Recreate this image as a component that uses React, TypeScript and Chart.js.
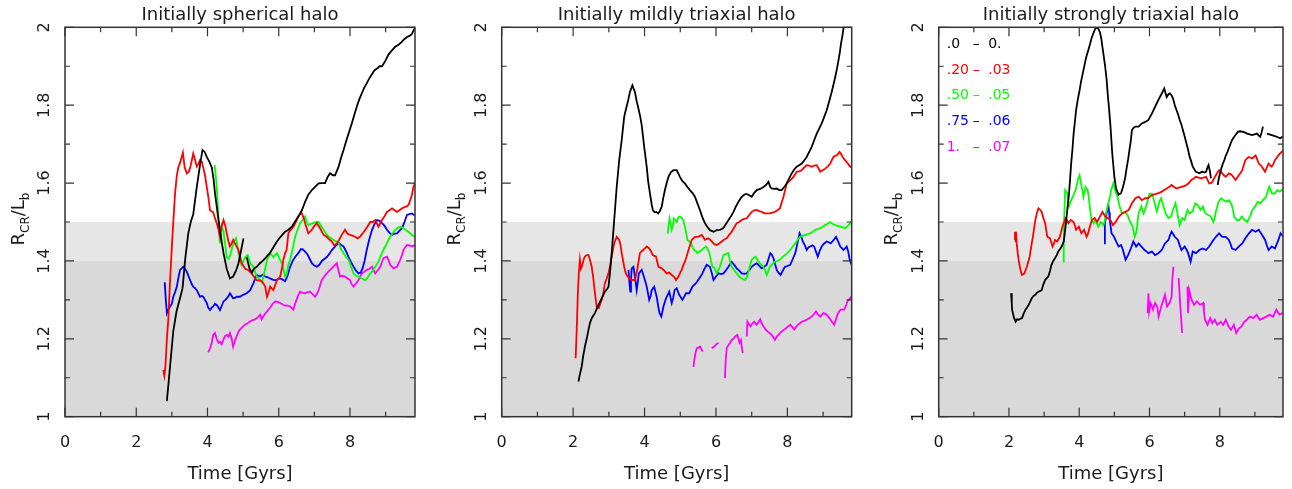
import React, { useEffect, useRef } from 'react';
import { Chart, registerables } from 'chart.js';

Chart.register(...registerables);

type Pt = [number, number | null];

// ---------- data : [time (Gyr), R_CR / L_b] ----------
const sphBlack: Pt[] = [[2.86,1.04],[2.95,1.13],[3.04,1.22],[3.13,1.27],[3.23,1.305],[3.3,1.33],[3.38,1.41],[3.46,1.47],[3.53,1.5],[3.6,1.52],[3.7,1.59],[3.78,1.64],[3.86,1.685],[3.92,1.68],[3.98,1.667],[4.05,1.655],[4.12,1.64],[4.17,1.61],[4.21,1.574],[4.31,1.505],[4.38,1.46],[4.45,1.42],[4.54,1.38],[4.63,1.355],[4.72,1.36],[4.8,1.375],[4.87,1.394],[4.95,1.43],[5.01,1.458],[5.03,null],[5.1,1.41],[5.18,1.38],[5.25,1.37],[5.3,1.38],[5.38,1.385],[5.47,1.394],[5.55,1.4],[5.65,1.41],[5.75,1.42],[5.85,1.435],[5.95,1.45],[6.05,1.462],[6.18,1.475],[6.27,1.48],[6.37,1.488],[6.45,1.5],[6.55,1.514],[6.65,1.53],[6.74,1.552],[6.83,1.57],[6.93,1.582],[7.02,1.59],[7.12,1.599],[7.2,1.6],[7.3,1.6],[7.37,1.615],[7.44,1.625],[7.52,1.62],[7.58,1.62],[7.68,1.642],[7.75,1.665],[7.82,1.685],[7.9,1.71],[7.96,1.727],[8.05,1.753],[8.12,1.775],[8.19,1.796],[8.26,1.815],[8.33,1.83],[8.4,1.845],[8.47,1.856],[8.55,1.87],[8.62,1.88],[8.69,1.89],[8.76,1.894],[8.83,1.9],[8.9,1.9],[9.0,1.915],[9.08,1.93],[9.17,1.94],[9.27,1.95],[9.36,1.955],[9.46,1.963],[9.53,1.97],[9.6,1.975],[9.67,1.978],[9.74,1.983],[9.8,1.995],[9.85,2.0]];
const sphRed: Pt[] = [[2.76,1.12],[2.79,1.105],[2.82,1.13],[2.86,1.2],[2.9,1.25],[2.95,1.35],[3.0,1.437],[3.04,1.5],[3.09,1.574],[3.14,1.62],[3.18,1.64],[3.24,1.655],[3.31,1.678],[3.36,1.64],[3.42,1.625],[3.48,1.63],[3.53,1.645],[3.6,1.676],[3.65,1.66],[3.7,1.642],[3.75,1.65],[3.79,1.659],[3.84,1.655],[3.88,1.64],[3.93,1.62],[3.98,1.59],[4.03,1.56],[4.07,1.53],[4.16,1.525],[4.21,1.51],[4.26,1.497],[4.31,1.48],[4.35,1.462],[4.4,1.49],[4.45,1.505],[4.5,1.49],[4.54,1.471],[4.59,1.45],[4.63,1.437],[4.68,1.445],[4.72,1.454],[4.8,1.44],[4.87,1.428],[4.92,1.41],[4.96,1.394],[5.06,1.38],[5.15,1.376],[5.24,1.368],[5.3,1.36],[5.38,1.35],[5.48,1.35],[5.55,1.345],[5.62,1.334],[5.67,1.308],[5.72,1.32],[5.76,1.334],[5.85,1.325],[5.95,1.35],[6.04,1.36],[6.1,1.385],[6.13,1.403],[6.18,1.42],[6.22,1.428],[6.27,1.471],[6.32,1.478],[6.41,1.488],[6.48,1.5],[6.55,1.514],[6.6,1.52],[6.65,1.522],[6.7,1.51],[6.74,1.497],[6.83,1.471],[6.93,1.48],[7.0,1.49],[7.07,1.497],[7.16,1.484],[7.26,1.467],[7.35,1.462],[7.42,1.455],[7.49,1.45],[7.56,1.44],[7.63,1.445],[7.7,1.455],[7.77,1.467],[7.86,1.48],[7.93,1.47],[8.0,1.467],[8.07,1.465],[8.14,1.462],[8.21,1.458],[8.28,1.462],[8.35,1.47],[8.43,1.48],[8.5,1.49],[8.57,1.5],[8.64,1.5],[8.71,1.505],[8.8,1.488],[8.9,1.505],[8.97,1.515],[9.04,1.526],[9.11,1.53],[9.18,1.535],[9.25,1.53],[9.32,1.526],[9.39,1.53],[9.46,1.535],[9.53,1.538],[9.6,1.54],[9.65,1.545],[9.69,1.556],[9.74,1.57],[9.78,1.59],[9.83,1.6]];
const sphGreen: Pt[] = [[4.2,1.646],[4.23,1.62],[4.26,1.59],[4.31,1.505],[4.35,1.445],[4.4,1.49],[4.45,1.475],[4.5,1.44],[4.54,1.41],[4.59,1.405],[4.64,1.415],[4.68,1.43],[4.74,1.45],[4.8,1.458],[4.84,1.44],[4.87,1.42],[4.92,1.4],[4.96,1.39],[5.01,1.4],[5.06,1.41],[5.13,1.415],[5.2,1.394],[5.29,1.385],[5.38,1.36],[5.48,1.35],[5.53,1.345],[5.57,1.36],[5.62,1.38],[5.67,1.403],[5.76,1.42],[5.85,1.41],[5.95,1.42],[6.04,1.403],[6.1,1.39],[6.18,1.36],[6.22,1.365],[6.27,1.39],[6.32,1.403],[6.39,1.43],[6.46,1.462],[6.53,1.48],[6.6,1.497],[6.67,1.505],[6.74,1.514],[6.79,1.5],[6.83,1.492],[6.9,1.495],[6.97,1.497],[7.05,1.5],[7.12,1.5],[7.19,1.49],[7.26,1.48],[7.33,1.47],[7.4,1.462],[7.47,1.458],[7.54,1.454],[7.61,1.45],[7.68,1.445],[7.75,1.43],[7.82,1.42],[7.89,1.41],[7.96,1.403],[8.03,1.385],[8.1,1.368],[8.17,1.362],[8.24,1.36],[8.33,1.355],[8.43,1.35],[8.5,1.358],[8.57,1.368],[8.64,1.375],[8.71,1.385],[8.78,1.395],[8.85,1.41],[8.92,1.425],[8.99,1.437],[9.06,1.45],[9.13,1.462],[9.2,1.472],[9.27,1.48],[9.34,1.485],[9.41,1.488],[9.48,1.485],[9.55,1.48],[9.62,1.476],[9.69,1.471],[9.76,1.465],[9.83,1.462]];
const sphBlue: Pt[] = [[2.78,1.335],[2.8,1.345],[2.83,1.3],[2.86,1.266],[2.9,1.275],[2.95,1.283],[3.0,1.29],[3.04,1.308],[3.09,1.32],[3.14,1.334],[3.18,1.355],[3.23,1.377],[3.32,1.385],[3.37,1.38],[3.42,1.372],[3.51,1.351],[3.56,1.34],[3.6,1.334],[3.65,1.33],[3.7,1.325],[3.79,1.308],[3.84,1.31],[3.88,1.308],[3.93,1.3],[3.98,1.292],[4.02,1.28],[4.07,1.274],[4.12,1.28],[4.16,1.283],[4.21,1.29],[4.26,1.287],[4.31,1.28],[4.35,1.274],[4.4,1.285],[4.45,1.296],[4.5,1.3],[4.54,1.304],[4.59,1.31],[4.63,1.317],[4.68,1.31],[4.72,1.304],[4.77,1.305],[4.82,1.308],[4.91,1.308],[5.0,1.313],[5.1,1.317],[5.2,1.325],[5.29,1.343],[5.34,1.355],[5.38,1.364],[5.48,1.36],[5.55,1.365],[5.62,1.36],[5.69,1.358],[5.76,1.355],[5.83,1.352],[5.9,1.35],[5.97,1.353],[6.04,1.355],[6.11,1.352],[6.18,1.348],[6.24,1.36],[6.32,1.385],[6.39,1.4],[6.46,1.41],[6.55,1.42],[6.62,1.43],[6.67,1.43],[6.74,1.424],[6.8,1.418],[6.87,1.405],[6.93,1.394],[7.0,1.388],[7.07,1.385],[7.14,1.39],[7.21,1.4],[7.28,1.405],[7.35,1.41],[7.42,1.418],[7.49,1.428],[7.56,1.435],[7.63,1.442],[7.7,1.445],[7.76,1.44],[7.82,1.437],[7.89,1.425],[7.96,1.41],[8.03,1.397],[8.1,1.385],[8.17,1.375],[8.24,1.368],[8.3,1.37],[8.35,1.38],[8.41,1.4],[8.47,1.428],[8.54,1.455],[8.62,1.48],[8.69,1.495],[8.76,1.505],[8.83,1.503],[8.9,1.497],[8.97,1.49],[9.04,1.48],[9.11,1.472],[9.18,1.467],[9.25,1.47],[9.32,1.471],[9.39,1.478],[9.46,1.484],[9.53,1.5],[9.6,1.518],[9.67,1.52],[9.74,1.522],[9.8,1.518],[9.84,1.516]];
const sphMagenta: Pt[] = [[4.02,1.165],[4.07,1.175],[4.12,1.19],[4.16,1.21],[4.21,1.215],[4.26,1.2],[4.31,1.19],[4.36,1.192],[4.4,1.186],[4.45,1.198],[4.49,1.207],[4.54,1.21],[4.59,1.205],[4.63,1.215],[4.68,1.2],[4.72,1.18],[4.77,1.195],[4.82,1.207],[4.87,1.218],[4.91,1.224],[4.98,1.23],[5.06,1.237],[5.13,1.24],[5.2,1.245],[5.27,1.248],[5.34,1.25],[5.41,1.255],[5.48,1.262],[5.52,1.25],[5.57,1.258],[5.62,1.265],[5.67,1.27],[5.72,1.276],[5.76,1.28],[5.83,1.29],[5.9,1.296],[5.97,1.295],[6.04,1.292],[6.11,1.288],[6.18,1.285],[6.25,1.285],[6.32,1.283],[6.41,1.275],[6.46,1.29],[6.5,1.3],[6.55,1.312],[6.6,1.321],[6.67,1.318],[6.74,1.317],[6.81,1.32],[6.88,1.321],[6.95,1.315],[7.02,1.308],[7.07,1.315],[7.12,1.325],[7.17,1.34],[7.21,1.351],[7.28,1.36],[7.35,1.368],[7.42,1.375],[7.49,1.381],[7.56,1.388],[7.63,1.394],[7.68,1.375],[7.72,1.36],[7.79,1.362],[7.86,1.36],[7.93,1.355],[8.0,1.351],[8.05,1.34],[8.1,1.334],[8.17,1.342],[8.24,1.351],[8.33,1.368],[8.4,1.372],[8.47,1.377],[8.55,1.38],[8.62,1.385],[8.67,1.375],[8.71,1.368],[8.78,1.376],[8.85,1.385],[8.9,1.398],[8.94,1.407],[9.04,1.411],[9.09,1.4],[9.13,1.39],[9.22,1.381],[9.32,1.385],[9.37,1.395],[9.41,1.403],[9.46,1.415],[9.5,1.428],[9.55,1.435],[9.6,1.441],[9.67,1.44],[9.74,1.437],[9.8,1.44],[9.84,1.441]];

const mildBlack: Pt[] = [[2.15,1.09],[2.18,1.105],[2.24,1.129],[2.28,1.155],[2.33,1.18],[2.38,1.2],[2.43,1.223],[2.47,1.24],[2.52,1.253],[2.61,1.266],[2.66,1.277],[2.71,1.287],[2.8,1.304],[2.89,1.321],[2.95,1.328],[2.99,1.334],[3.03,1.368],[3.08,1.42],[3.15,1.505],[3.22,1.59],[3.29,1.659],[3.36,1.71],[3.43,1.77],[3.48,1.79],[3.53,1.808],[3.59,1.834],[3.66,1.851],[3.73,1.834],[3.78,1.81],[3.83,1.791],[3.88,1.77],[3.92,1.749],[3.99,1.693],[4.06,1.642],[4.1,1.605],[4.15,1.574],[4.2,1.545],[4.23,1.531],[4.28,1.525],[4.33,1.526],[4.38,1.522],[4.42,1.527],[4.48,1.539],[4.52,1.56],[4.57,1.582],[4.62,1.6],[4.67,1.616],[4.74,1.628],[4.81,1.633],[4.9,1.633],[4.99,1.616],[5.06,1.605],[5.13,1.599],[5.2,1.59],[5.27,1.582],[5.34,1.575],[5.41,1.565],[5.48,1.548],[5.55,1.531],[5.62,1.512],[5.69,1.497],[5.76,1.487],[5.83,1.479],[5.93,1.475],[6.02,1.479],[6.11,1.48],[6.2,1.484],[6.28,1.495],[6.35,1.505],[6.42,1.515],[6.49,1.526],[6.56,1.54],[6.63,1.552],[6.7,1.562],[6.77,1.569],[6.84,1.572],[6.91,1.57],[7.0,1.565],[7.07,1.575],[7.14,1.582],[7.24,1.585],[7.33,1.59],[7.4,1.595],[7.47,1.603],[7.52,1.59],[7.56,1.586],[7.63,1.585],[7.7,1.586],[7.77,1.582],[7.84,1.582],[7.91,1.59],[7.98,1.599],[8.05,1.612],[8.12,1.625],[8.19,1.635],[8.26,1.642],[8.33,1.646],[8.4,1.65],[8.47,1.658],[8.54,1.667],[8.61,1.68],[8.68,1.693],[8.75,1.71],[8.82,1.727],[8.89,1.74],[8.96,1.753],[9.03,1.77],[9.1,1.787],[9.17,1.81],[9.24,1.834],[9.29,1.853],[9.34,1.873],[9.39,1.895],[9.43,1.915],[9.47,1.937],[9.5,1.958],[9.54,1.978],[9.57,1.997],[9.62,2.03]];
const mildRed: Pt[] = [[2.07,1.15],[2.1,1.22],[2.13,1.31],[2.16,1.37],[2.19,1.403],[2.22,1.38],[2.26,1.39],[2.3,1.405],[2.33,1.411],[2.38,1.415],[2.43,1.415],[2.48,1.4],[2.52,1.385],[2.56,1.36],[2.59,1.334],[2.62,1.31],[2.66,1.283],[2.72,1.279],[2.76,1.29],[2.8,1.3],[2.85,1.32],[2.89,1.343],[2.94,1.355],[2.99,1.368],[3.04,1.39],[3.08,1.411],[3.15,1.445],[3.22,1.462],[3.29,1.454],[3.33,1.44],[3.36,1.42],[3.43,1.385],[3.47,1.37],[3.52,1.36],[3.58,1.355],[3.64,1.351],[3.73,1.351],[3.8,1.38],[3.87,1.42],[3.92,1.425],[3.96,1.428],[4.01,1.432],[4.06,1.437],[4.13,1.432],[4.18,1.425],[4.23,1.415],[4.32,1.411],[4.35,1.4],[4.39,1.385],[4.48,1.381],[4.55,1.375],[4.62,1.368],[4.69,1.37],[4.76,1.364],[4.82,1.36],[4.88,1.351],[4.95,1.36],[5.0,1.37],[5.04,1.377],[5.09,1.39],[5.13,1.398],[5.18,1.412],[5.23,1.428],[5.28,1.442],[5.32,1.454],[5.41,1.462],[5.5,1.462],[5.6,1.467],[5.65,1.46],[5.69,1.454],[5.78,1.458],[5.83,1.455],[5.88,1.45],[5.95,1.443],[6.02,1.441],[6.09,1.445],[6.16,1.45],[6.23,1.455],[6.3,1.458],[6.37,1.467],[6.44,1.475],[6.51,1.486],[6.58,1.497],[6.65,1.5],[6.72,1.505],[6.79,1.508],[6.86,1.509],[6.93,1.518],[7.0,1.526],[7.07,1.53],[7.14,1.531],[7.21,1.528],[7.28,1.526],[7.37,1.522],[7.44,1.522],[7.51,1.522],[7.58,1.524],[7.65,1.526],[7.72,1.53],[7.79,1.535],[7.84,1.55],[7.89,1.565],[7.93,1.58],[7.98,1.599],[8.03,1.603],[8.08,1.607],[8.17,1.616],[8.26,1.629],[8.33,1.63],[8.4,1.633],[8.47,1.64],[8.54,1.646],[8.61,1.645],[8.68,1.642],[8.75,1.645],[8.82,1.646],[8.87,1.638],[8.92,1.629],[8.99,1.633],[9.06,1.637],[9.13,1.643],[9.2,1.65],[9.25,1.66],[9.29,1.667],[9.34,1.67],[9.38,1.671],[9.42,1.675],[9.46,1.68],[9.5,1.675],[9.55,1.667],[9.6,1.66],[9.66,1.654],[9.71,1.648],[9.76,1.642],[9.8,1.64]];
const mildGreen: Pt[] = [[4.65,1.47],[4.67,1.49],[4.7,1.509],[4.73,1.495],[4.76,1.48],[4.79,1.49],[4.82,1.509],[4.86,1.505],[4.9,1.5],[4.94,1.51],[4.97,1.514],[5.02,1.512],[5.06,1.509],[5.1,1.5],[5.13,1.488],[5.17,1.47],[5.2,1.454],[5.25,1.45],[5.3,1.445],[5.35,1.435],[5.39,1.428],[5.44,1.425],[5.48,1.42],[5.54,1.424],[5.6,1.428],[5.66,1.433],[5.72,1.437],[5.77,1.43],[5.82,1.42],[5.86,1.4],[5.9,1.385],[5.95,1.383],[6.02,1.368],[6.06,1.375],[6.11,1.385],[6.16,1.4],[6.21,1.415],[6.28,1.418],[6.35,1.42],[6.39,1.4],[6.44,1.385],[6.51,1.376],[6.58,1.368],[6.65,1.36],[6.72,1.355],[6.82,1.351],[6.87,1.36],[6.91,1.372],[6.96,1.39],[7.0,1.403],[7.05,1.408],[7.1,1.411],[7.15,1.405],[7.19,1.398],[7.26,1.39],[7.33,1.385],[7.38,1.375],[7.42,1.364],[7.47,1.375],[7.51,1.385],[7.58,1.392],[7.65,1.398],[7.72,1.4],[7.79,1.403],[7.86,1.41],[7.93,1.415],[8.0,1.42],[8.08,1.428],[8.15,1.437],[8.22,1.445],[8.29,1.455],[8.36,1.462],[8.43,1.465],[8.5,1.467],[8.57,1.469],[8.64,1.471],[8.71,1.475],[8.78,1.48],[8.85,1.482],[8.92,1.484],[8.99,1.488],[9.06,1.492],[9.13,1.496],[9.2,1.5],[9.27,1.495],[9.34,1.492],[9.41,1.49],[9.48,1.488],[9.55,1.486],[9.62,1.484],[9.69,1.49],[9.76,1.497],[9.8,1.502]];
const mildBlue: Pt[] = [[3.55,1.377],[3.58,1.34],[3.6,1.321],[3.62,1.35],[3.64,1.381],[3.69,1.385],[3.73,1.36],[3.78,1.325],[3.81,1.345],[3.84,1.368],[3.92,1.377],[3.98,1.36],[4.02,1.348],[4.06,1.334],[4.1,1.315],[4.13,1.3],[4.17,1.31],[4.2,1.325],[4.27,1.334],[4.3,1.322],[4.34,1.308],[4.38,1.285],[4.42,1.266],[4.47,1.257],[4.53,1.283],[4.58,1.298],[4.62,1.308],[4.69,1.321],[4.72,1.31],[4.76,1.292],[4.8,1.305],[4.84,1.325],[4.9,1.33],[4.97,1.313],[5.06,1.3],[5.11,1.308],[5.16,1.317],[5.25,1.317],[5.34,1.334],[5.44,1.343],[5.53,1.355],[5.58,1.362],[5.62,1.368],[5.68,1.38],[5.74,1.39],[5.83,1.385],[5.88,1.37],[5.93,1.351],[6.0,1.36],[6.07,1.368],[6.14,1.366],[6.21,1.368],[6.28,1.376],[6.35,1.385],[6.44,1.398],[6.51,1.39],[6.58,1.381],[6.65,1.375],[6.72,1.368],[6.79,1.367],[6.86,1.368],[6.93,1.376],[7.0,1.385],[7.07,1.39],[7.14,1.394],[7.21,1.388],[7.28,1.381],[7.35,1.385],[7.42,1.39],[7.47,1.405],[7.52,1.42],[7.57,1.415],[7.61,1.407],[7.66,1.39],[7.7,1.377],[7.75,1.37],[7.81,1.364],[7.87,1.375],[7.93,1.385],[8.0,1.387],[8.08,1.39],[8.15,1.405],[8.22,1.42],[8.28,1.445],[8.34,1.471],[8.39,1.462],[8.43,1.45],[8.49,1.44],[8.54,1.428],[8.59,1.435],[8.64,1.437],[8.7,1.44],[8.75,1.437],[8.8,1.424],[8.85,1.411],[8.9,1.425],[8.96,1.437],[9.03,1.445],[9.1,1.45],[9.16,1.448],[9.21,1.445],[9.28,1.452],[9.36,1.462],[9.42,1.45],[9.48,1.437],[9.53,1.432],[9.57,1.428],[9.62,1.433],[9.66,1.437],[9.7,1.425],[9.74,1.405],[9.78,1.394],[9.8,1.39]];
const mildMagenta: Pt[] = [[5.37,1.128],[5.4,1.15],[5.43,1.165],[5.46,1.175],[5.51,1.178],[5.56,1.18],[5.6,1.172],[5.63,1.167],[5.7,null],[5.88,1.176],[5.95,1.18],[6.0,1.185],[6.07,1.19],[6.15,null],[6.25,1.099],[6.27,1.14],[6.3,1.176],[6.35,1.184],[6.4,1.19],[6.44,1.197],[6.49,1.2],[6.54,1.206],[6.6,1.21],[6.63,1.2],[6.66,1.19],[6.7,1.197],[6.72,1.18],[6.75,1.163],[6.8,null],[6.86,1.206],[6.88,1.244],[6.92,1.238],[6.97,1.232],[7.02,1.24],[7.07,1.244],[7.14,1.236],[7.19,1.243],[7.24,1.25],[7.28,1.24],[7.33,1.232],[7.38,1.225],[7.44,1.219],[7.5,1.215],[7.56,1.21],[7.61,1.203],[7.65,1.197],[7.7,1.205],[7.75,1.21],[7.8,1.215],[7.84,1.219],[7.9,1.223],[7.96,1.227],[8.02,1.232],[8.08,1.236],[8.14,1.23],[8.19,1.224],[8.24,1.23],[8.29,1.236],[8.35,1.24],[8.4,1.244],[8.47,1.246],[8.54,1.249],[8.61,1.253],[8.68,1.257],[8.74,1.263],[8.8,1.27],[8.86,1.262],[8.92,1.257],[8.97,1.262],[9.01,1.266],[9.06,1.264],[9.1,1.262],[9.16,1.255],[9.21,1.249],[9.26,1.242],[9.31,1.236],[9.36,1.25],[9.4,1.262],[9.45,1.27],[9.49,1.275],[9.54,1.275],[9.59,1.275],[9.64,1.285],[9.68,1.296],[9.72,1.3],[9.76,1.305],[9.8,1.31]];

const strongBlack: Pt[] = [[2.06,1.317],[2.08,1.29],[2.09,1.275],[2.14,1.255],[2.19,1.244],[2.23,1.25],[2.28,1.249],[2.33,1.252],[2.37,1.253],[2.42,1.265],[2.47,1.275],[2.51,1.28],[2.56,1.287],[2.6,1.295],[2.65,1.304],[2.7,1.31],[2.75,1.313],[2.79,1.318],[2.84,1.321],[2.89,1.323],[2.93,1.325],[2.98,1.34],[3.03,1.351],[3.07,1.355],[3.12,1.36],[3.17,1.375],[3.21,1.39],[3.26,1.4],[3.31,1.407],[3.36,1.415],[3.4,1.424],[3.45,1.43],[3.5,1.437],[3.56,1.45],[3.6,1.48],[3.63,1.505],[3.67,1.54],[3.71,1.574],[3.74,1.61],[3.77,1.65],[3.81,1.69],[3.84,1.727],[3.88,1.76],[3.91,1.787],[3.96,1.815],[4.01,1.838],[4.05,1.86],[4.1,1.881],[4.15,1.903],[4.2,1.924],[4.26,1.942],[4.31,1.958],[4.35,1.972],[4.4,1.984],[4.45,1.995],[4.5,2.0],[4.55,1.995],[4.59,1.987],[4.63,1.97],[4.66,1.95],[4.7,1.925],[4.74,1.898],[4.78,1.865],[4.81,1.83],[4.85,1.79],[4.89,1.745],[4.94,1.676],[5.0,1.616],[5.05,1.586],[5.12,1.57],[5.19,1.574],[5.23,1.585],[5.27,1.599],[5.31,1.615],[5.34,1.633],[5.39,1.66],[5.43,1.685],[5.47,1.71],[5.5,1.736],[5.55,1.742],[5.6,1.745],[5.69,1.745],[5.78,1.753],[5.88,1.757],[5.97,1.762],[6.07,1.779],[6.16,1.796],[6.25,1.813],[6.35,1.83],[6.42,1.843],[6.46,1.83],[6.49,1.821],[6.54,1.828],[6.58,1.83],[6.63,1.825],[6.67,1.817],[6.72,1.8],[6.77,1.787],[6.82,1.775],[6.86,1.762],[6.91,1.75],[6.95,1.736],[7.0,1.72],[7.05,1.702],[7.1,1.685],[7.14,1.668],[7.19,1.655],[7.23,1.642],[7.28,1.635],[7.32,1.629],[7.37,1.627],[7.42,1.625],[7.47,1.628],[7.51,1.629],[7.56,1.627],[7.61,1.629],[7.65,1.64],[7.68,1.646],[7.72,1.63],[7.75,1.612],[7.8,null],[7.94,1.595],[7.98,1.615],[8.03,1.633],[8.08,1.648],[8.13,1.659],[8.17,1.67],[8.22,1.68],[8.27,1.692],[8.31,1.702],[8.36,1.712],[8.41,1.719],[8.47,1.726],[8.52,1.732],[8.58,1.733],[8.64,1.732],[8.71,1.73],[8.78,1.727],[8.85,1.725],[8.92,1.723],[8.99,1.725],[9.06,1.727],[9.11,1.722],[9.15,1.719],[9.19,1.73],[9.23,1.745],[9.25,null],[9.34,1.727],[9.41,1.725],[9.48,1.723],[9.55,1.721],[9.62,1.719],[9.67,1.717],[9.72,1.715],[9.77,1.718],[9.81,1.719]];
const strongRed: Pt[] = [[2.16,1.454],[2.17,1.475],[2.19,1.45],[2.2,1.475],[2.22,1.445],[2.25,1.42],[2.28,1.4],[2.31,1.385],[2.34,1.372],[2.37,1.364],[2.44,1.368],[2.51,1.385],[2.55,1.398],[2.59,1.411],[2.63,1.435],[2.68,1.462],[2.75,1.505],[2.8,1.525],[2.84,1.535],[2.88,1.532],[2.93,1.526],[2.98,1.51],[3.03,1.497],[3.06,1.48],[3.09,1.462],[3.17,1.458],[3.24,1.437],[3.28,1.445],[3.31,1.454],[3.37,1.45],[3.45,1.462],[3.52,1.488],[3.57,1.5],[3.61,1.51],[3.65,1.505],[3.69,1.497],[3.76,1.505],[3.84,1.5],[3.88,1.49],[3.91,1.48],[3.99,1.488],[4.06,1.471],[4.14,1.48],[4.21,1.462],[4.25,1.47],[4.29,1.484],[4.36,1.505],[4.44,1.51],[4.51,1.5],[4.59,1.514],[4.66,1.526],[4.74,1.514],[4.81,1.51],[4.89,1.505],[4.96,1.492],[5.04,1.5],[5.13,1.514],[5.22,1.522],[5.32,1.526],[5.41,1.531],[5.5,1.548],[5.6,1.561],[5.69,1.565],[5.78,1.556],[5.88,1.561],[5.97,1.562],[6.07,1.569],[6.14,1.571],[6.21,1.573],[6.28,1.575],[6.35,1.578],[6.42,1.582],[6.49,1.586],[6.56,1.59],[6.63,1.595],[6.7,1.59],[6.77,1.586],[6.84,1.588],[6.91,1.59],[6.98,1.592],[7.05,1.595],[7.12,1.6],[7.19,1.608],[7.26,1.612],[7.32,1.616],[7.4,1.614],[7.47,1.612],[7.54,1.614],[7.61,1.616],[7.66,1.607],[7.7,1.599],[7.75,1.6],[7.79,1.603],[7.84,1.612],[7.89,1.62],[7.94,1.628],[7.98,1.633],[8.03,1.63],[8.07,1.625],[8.12,1.62],[8.17,1.616],[8.21,1.62],[8.26,1.625],[8.31,1.623],[8.35,1.62],[8.4,1.614],[8.45,1.608],[8.5,1.614],[8.54,1.62],[8.59,1.626],[8.64,1.633],[8.68,1.645],[8.73,1.659],[8.78,1.664],[8.83,1.667],[8.88,1.665],[8.92,1.663],[8.97,1.667],[9.02,1.671],[9.06,1.662],[9.11,1.65],[9.16,1.646],[9.2,1.642],[9.25,1.635],[9.29,1.629],[9.34,1.64],[9.39,1.65],[9.43,1.646],[9.48,1.642],[9.53,1.65],[9.57,1.659],[9.62,1.665],[9.67,1.671],[9.72,1.676],[9.76,1.68],[9.81,1.684]];
const strongGreen: Pt[] = [[3.54,1.398],[3.56,1.45],[3.57,1.505],[3.6,1.582],[3.63,1.578],[3.66,1.574],[3.69,1.555],[3.71,1.54],[3.74,1.548],[3.77,1.556],[3.82,1.565],[3.86,1.575],[3.9,1.582],[3.93,1.595],[3.96,1.608],[4.01,1.62],[4.04,1.605],[4.07,1.59],[4.1,1.577],[4.12,1.565],[4.15,1.578],[4.18,1.59],[4.24,1.582],[4.27,1.565],[4.29,1.548],[4.32,1.525],[4.35,1.505],[4.41,1.497],[4.46,1.505],[4.5,1.497],[4.54,1.488],[4.61,1.5],[4.69,1.492],[4.73,1.505],[4.76,1.522],[4.8,1.537],[4.84,1.552],[4.88,1.567],[4.91,1.582],[4.97,1.599],[5.02,1.582],[5.05,1.574],[5.09,1.565],[5.12,1.552],[5.15,1.54],[5.22,1.522],[5.3,1.526],[5.37,1.518],[5.41,1.51],[5.45,1.5],[5.52,1.488],[5.55,1.475],[5.58,1.462],[5.61,1.47],[5.64,1.48],[5.66,1.5],[5.69,1.522],[5.73,1.531],[5.77,1.54],[5.8,1.53],[5.83,1.522],[5.87,1.531],[5.9,1.54],[5.93,1.548],[5.96,1.56],[6.0,1.573],[6.07,1.573],[6.14,1.552],[6.21,1.527],[6.25,1.54],[6.28,1.552],[6.33,1.561],[6.4,1.54],[6.46,1.522],[6.54,1.51],[6.61,1.514],[6.67,1.531],[6.74,1.548],[6.78,1.53],[6.81,1.514],[6.86,1.492],[6.93,1.51],[7.0,1.505],[7.08,1.531],[7.14,1.522],[7.23,1.527],[7.3,1.548],[7.37,1.544],[7.45,1.531],[7.52,1.54],[7.59,1.522],[7.67,1.518],[7.75,1.514],[7.82,1.5],[7.86,1.512],[7.89,1.527],[7.93,1.54],[7.97,1.552],[8.04,1.561],[8.11,1.556],[8.19,1.552],[8.26,1.556],[8.34,1.544],[8.38,1.53],[8.41,1.514],[8.49,1.505],[8.56,1.505],[8.63,1.514],[8.71,1.505],[8.78,1.5],[8.86,1.514],[8.93,1.531],[9.01,1.54],[9.08,1.552],[9.16,1.548],[9.23,1.556],[9.32,1.565],[9.37,1.58],[9.41,1.591],[9.45,1.582],[9.49,1.573],[9.56,1.573],[9.64,1.582],[9.71,1.578],[9.76,1.582],[9.81,1.586]];
const strongBlue: Pt[] = [[4.71,1.445],[4.73,1.497],[4.76,1.51],[4.78,1.522],[4.81,1.535],[4.83,1.544],[4.85,1.525],[4.87,1.505],[4.92,1.471],[4.99,1.462],[5.05,1.45],[5.12,1.437],[5.19,1.441],[5.23,1.432],[5.27,1.42],[5.32,1.403],[5.39,1.415],[5.47,1.432],[5.54,1.45],[5.62,1.437],[5.69,1.445],[5.77,1.437],[5.86,1.428],[5.92,1.424],[5.97,1.42],[6.07,1.424],[6.16,1.415],[6.25,1.42],[6.35,1.428],[6.44,1.445],[6.54,1.454],[6.58,1.465],[6.63,1.475],[6.68,1.468],[6.72,1.462],[6.81,1.454],[6.86,1.44],[6.91,1.428],[7.0,1.437],[7.05,1.43],[7.1,1.42],[7.17,1.398],[7.23,1.424],[7.32,1.42],[7.42,1.428],[7.51,1.432],[7.61,1.428],[7.7,1.437],[7.79,1.45],[7.89,1.462],[7.98,1.471],[8.07,1.462],[8.17,1.462],[8.26,1.454],[8.31,1.443],[8.35,1.432],[8.45,1.428],[8.54,1.437],[8.64,1.445],[8.73,1.458],[8.83,1.471],[8.92,1.48],[9.02,1.475],[9.11,1.48],[9.2,1.467],[9.29,1.454],[9.34,1.44],[9.39,1.428],[9.48,1.437],[9.57,1.432],[9.67,1.454],[9.73,1.471],[9.81,1.462]];
const strongMagenta: Pt[] = [[5.95,1.266],[5.97,1.317],[5.99,1.27],[6.03,1.292],[6.06,1.285],[6.1,1.275],[6.13,1.285],[6.16,1.292],[6.22,1.283],[6.26,1.257],[6.31,1.275],[6.38,1.296],[6.44,1.313],[6.5,1.283],[6.57,1.292],[6.63,1.308],[6.65,1.35],[6.68,1.385],[6.72,null],[6.83,1.356],[6.88,1.28],[6.93,1.215],[6.98,null],[7.08,1.334],[7.1,1.266],[7.13,1.325],[7.17,1.31],[7.2,1.3],[7.27,1.287],[7.35,1.296],[7.44,1.287],[7.53,1.292],[7.55,1.27],[7.58,1.249],[7.65,1.236],[7.73,1.253],[7.79,1.24],[7.86,1.249],[7.93,1.236],[8.03,1.244],[8.1,1.236],[8.17,1.249],[8.25,1.232],[8.32,1.223],[8.4,1.236],[8.47,1.215],[8.55,1.227],[8.62,1.232],[8.7,1.244],[8.77,1.249],[8.86,1.257],[8.96,1.253],[9.05,1.262],[9.14,1.249],[9.24,1.253],[9.33,1.257],[9.42,1.262],[9.52,1.257],[9.61,1.275],[9.7,1.262],[9.79,1.266]];

// ---------- axes / labels ----------
const PANEL_TITLES = ['Initially spherical halo', 'Initially mildly triaxial halo', 'Initially strongly triaxial halo'];
const X_MAX = [9.825, 9.8, 9.8];
const X_MAJOR = [0, 2, 4, 6, 8];
const X_MINOR = [1, 3, 5, 7, 9];
const Y_MAJOR = [1, 1.2, 1.4, 1.6, 1.8, 2];
const Y_MAJOR_LABELS = ['1', '1.2', '1.4', '1.6', '1.8', '2'];
const Y_MINOR = [1.1, 1.3, 1.5, 1.7, 1.9];
const BAND_EDGES = [1.0, 1.4, 1.5];
const LEGEND_LEFT = ['.0', '.20', '.50', '.75', '1.'];
const LEGEND_RIGHT = ['0.', '.03', '.05', '.06', '.07'];
const SERIES_COLORS = ['#000000', '#ff0000', '#00ff00', '#0000ff', '#ff00ff'];
const PANEL_SERIES: Pt[][][] = [
  [sphBlack, sphRed, sphGreen, sphBlue, sphMagenta],
  [mildBlack, mildRed, mildGreen, mildBlue, mildMagenta],
  [strongBlack, strongRed, strongGreen, strongBlue, strongMagenta],
];

// ---------- layout (pixels) ----------
const H = 489;
const LAYOUT = [
  { left: 0, width: 430, padLeft: 65, padRight: 15 },
  { left: 430, width: 437, padLeft: 71.7, padRight: 15.3 },
  { left: 867, width: 425, padLeft: 71.7, padRight: 3.7 },
];
const PLOT_TOP = 27.3;
const PLOT_BOTTOM = 416.7;
const FONT = '"DejaVu Sans", sans-serif';
const TEXT = '#1a1a1a';

function decorPlugin(idx: number) {
  return {
    id: 'decor' + idx,
    beforeDatasetsDraw(chart: any) {
      const { ctx, chartArea: a, scales } = chart;
      const y = scales.y;
      const p0 = y.getPixelForValue(BAND_EDGES[0]);
      const p1 = y.getPixelForValue(BAND_EDGES[1]);
      const p2 = y.getPixelForValue(BAND_EDGES[2]);
      ctx.save();
      ctx.fillStyle = '#d9d9d9';
      ctx.fillRect(a.left, p1, a.right - a.left, p0 - p1);
      ctx.fillStyle = '#e6e6e6';
      ctx.fillRect(a.left, p2, a.right - a.left, p1 - p2);
      ctx.restore();
    },
    afterDatasetsDraw(chart: any) {
      const { ctx, chartArea: a, scales } = chart;
      const x = scales.x, y = scales.y;
      ctx.save();
      // frame
      ctx.strokeStyle = '#333';
      ctx.lineWidth = 1.5;
      ctx.strokeRect(a.left, a.top, a.right - a.left, a.bottom - a.top);
      // ticks (inward, all four sides)
      ctx.lineWidth = 1.2;
      ctx.beginPath();
      const tickX = (v: number, len: number) => {
        const px = x.getPixelForValue(v);
        if (px > a.right - 0.5) return;
        ctx.moveTo(px, a.bottom); ctx.lineTo(px, a.bottom - len);
        ctx.moveTo(px, a.top); ctx.lineTo(px, a.top + len);
      };
      const tickY = (v: number, len: number) => {
        const py = y.getPixelForValue(v);
        ctx.moveTo(a.left, py); ctx.lineTo(a.left + len, py);
        ctx.moveTo(a.right, py); ctx.lineTo(a.right - len, py);
      };
      X_MAJOR.forEach(v => tickX(v, 9));
      X_MINOR.forEach(v => tickX(v, 5));
      Y_MAJOR.forEach(v => tickY(v, 9));
      Y_MINOR.forEach(v => tickY(v, 5));
      ctx.stroke();
      // y tick labels (rotated)
      ctx.fillStyle = TEXT;
      ctx.font = '16px ' + FONT;
      ctx.textAlign = 'center';
      ctx.textBaseline = 'middle';
      Y_MAJOR.forEach((v, i) => {
        const py = y.getPixelForValue(v);
        ctx.save();
        ctx.translate(a.left - 20, py);
        ctx.rotate(-Math.PI / 2);
        ctx.fillText(Y_MAJOR_LABELS[i], 0, 0);
        ctx.restore();
      });
      // y axis title R_CR / L_b
      const parts: [string, number, number][] = [['R', 18, 0], ['CR', 12, 5], ['/L', 18, 0], ['b', 12, 5]];
      ctx.textAlign = 'left';
      ctx.textBaseline = 'alphabetic';
      let total = 0;
      parts.forEach(([t, s]) => { ctx.font = s + 'px ' + FONT; total += ctx.measureText(t).width; });
      ctx.save();
      ctx.translate(a.left - 41.5, (a.top + a.bottom) / 2 - 3);
      ctx.rotate(-Math.PI / 2);
      let cx = -total / 2;
      parts.forEach(([t, s, dy]) => {
        ctx.font = s + 'px ' + FONT;
        ctx.fillText(t, cx, dy);
        cx += ctx.measureText(t).width;
      });
      ctx.restore();
      // panel title
      ctx.font = '18px ' + FONT;
      ctx.textAlign = 'center';
      ctx.textBaseline = 'alphabetic';
      ctx.fillText(PANEL_TITLES[idx], (a.left + a.right) / 2, 20);
      // legend (third panel)
      if (idx === 2) {
        ctx.font = '14px ' + FONT;
        ctx.textAlign = 'left';
        LEGEND_LEFT.forEach((t, i) => {
          const by = a.top + 20.7 + i * 25.7;
          ctx.fillStyle = SERIES_COLORS[i];
          ctx.fillText(t, a.left + 8, by);
          ctx.fillText('\u2013', a.left + 34, by);
          ctx.fillText(LEGEND_RIGHT[i], a.left + 49.5, by);
        });
      }
      ctx.restore();
    },
  };
}

function Panel({ idx }: { idx: number }) {
  const ref = useRef<HTMLCanvasElement>(null);
  const L = LAYOUT[idx];
  useEffect(() => {
    const chart = new Chart(ref.current as HTMLCanvasElement, {
      type: 'line',
      data: {
        datasets: PANEL_SERIES[idx].map((s, i) => ({
          data: s.map(([px, py]) => ({ x: px, y: py })),
          borderColor: SERIES_COLORS[i],
          borderWidth: 1.8,
          pointRadius: 0,
          fill: false,
          tension: 0,
          spanGaps: false,
          clip: 0,
        })),
      } as any,
      options: {
        animation: false,
        responsive: false,
        events: [],
        layout: { padding: { left: L.padLeft, right: L.padRight, top: PLOT_TOP, bottom: 0 } },
        plugins: { legend: { display: false }, tooltip: { enabled: false }, title: { display: false } },
        scales: {
          x: {
            type: 'linear',
            position: 'bottom',
            min: 0,
            max: X_MAX[idx],
            grid: { display: false },
            border: { display: false },
            ticks: {
              stepSize: 1,
              autoSkip: false,
              maxRotation: 0,
              padding: 9,
              color: TEXT,
              font: { family: FONT, size: 16 },
              callback: (v: any) => (X_MAJOR.includes(Number(v)) ? String(v) : ''),
            },
            title: { display: true, text: 'Time [Gyrs]', color: TEXT, font: { family: FONT, size: 18 }, padding: { top: 0, bottom: 4 } },
            afterFit: (s: any) => { s.height = H - PLOT_BOTTOM; },
          },
          y: { type: 'linear', min: 1, max: 2, display: false },
        },
      } as any,
      plugins: [decorPlugin(idx)],
    });
    return () => chart.destroy();
  }, []);
  return (
    <canvas
      ref={ref}
      width={L.width}
      height={H}
      style={{ position: 'absolute', left: L.left, top: 0, width: L.width, height: H }}
    />
  );
}

export default function App() {
  return (
    <div style={{ position: 'absolute', left: 0, top: 0, width: 1292, height: H, background: '#fff' }}>
      {[0, 1, 2].map(i => <Panel key={i} idx={i} />)}
    </div>
  );
}
